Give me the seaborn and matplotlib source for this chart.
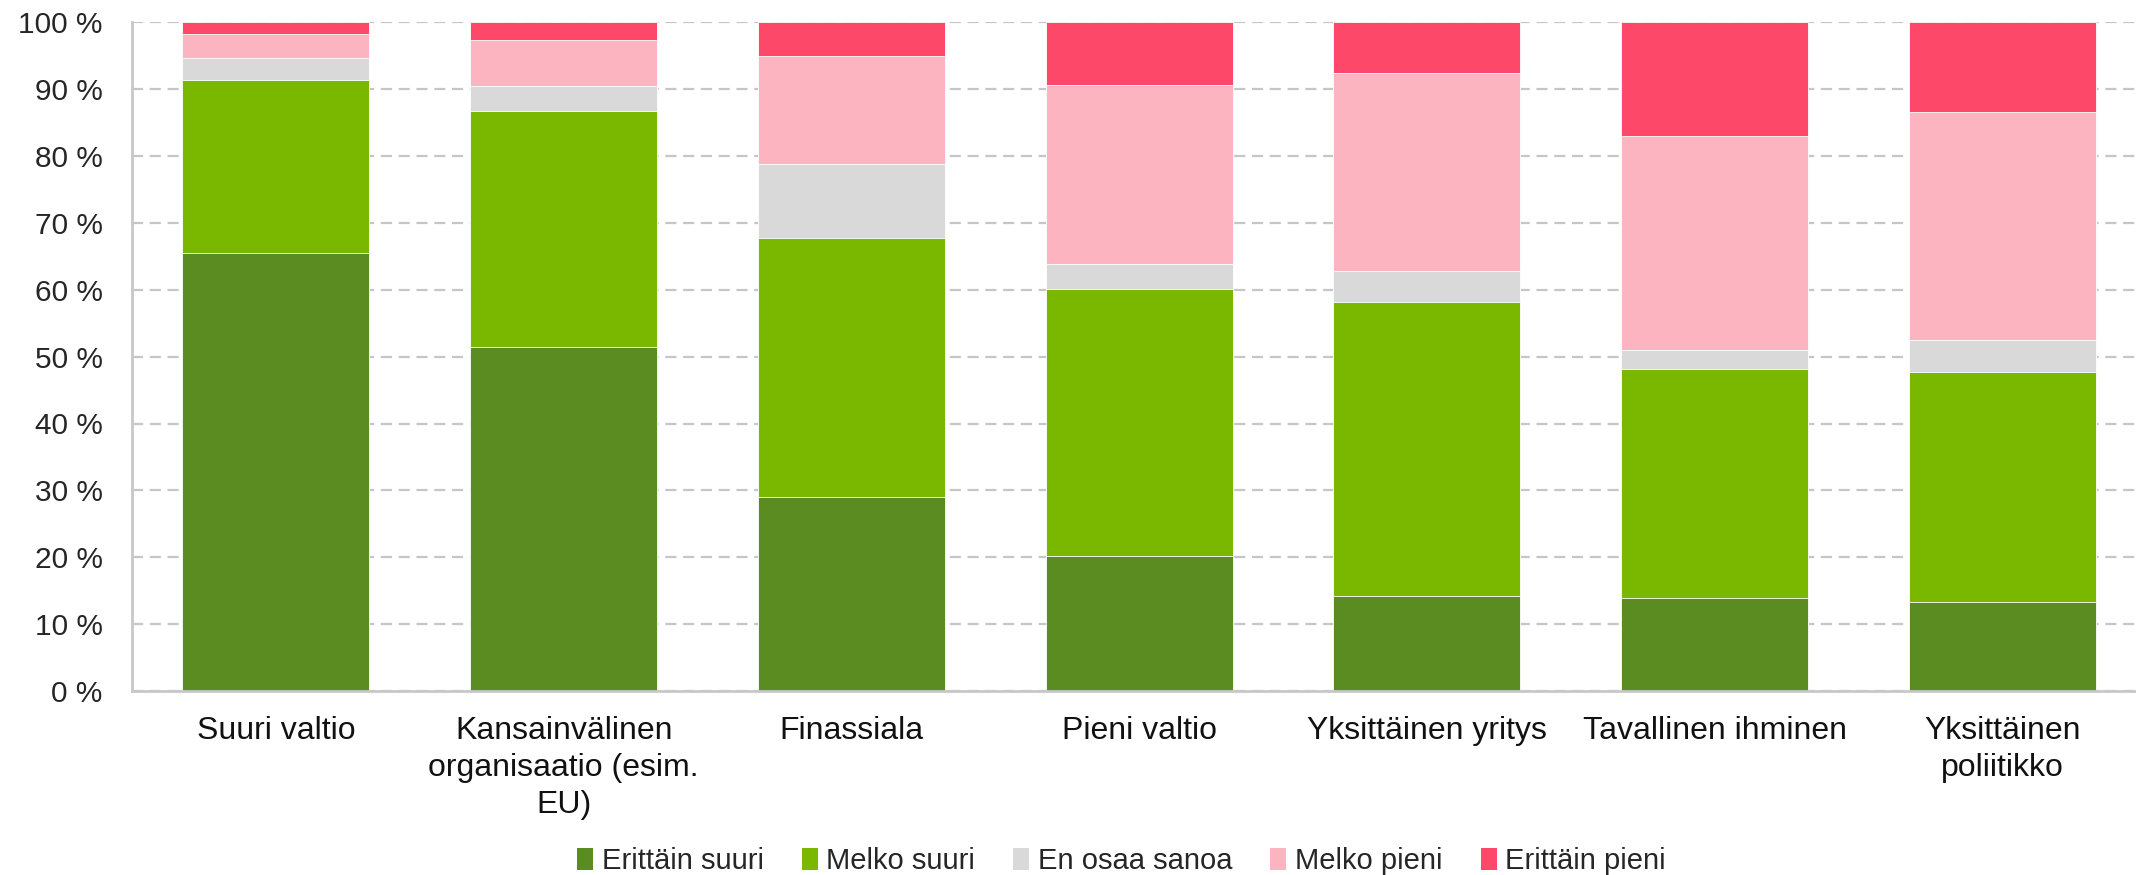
import matplotlib
matplotlib.use("Agg")
import matplotlib.pyplot as plt
from matplotlib.patches import Patch
from matplotlib.ticker import FuncFormatter
import seaborn as sns
import pandas as pd
import numpy as np

# categories and shares (%)
categories = ["Suuri valtio", "Kansainvälinen\norganisaatio (esim.\nEU)", "Finassiala",
              "Pieni valtio", "Yksittäinen yritys", "Tavallinen ihminen", "Yksittäinen\npoliitikko"]
erittain_suuri = [65.5, 51.4, 29.0, 20.2, 14.2, 14.0, 13.4]
melko_suuri = [25.8, 35.3, 38.7, 39.9, 44.0, 34.2, 34.3]
en_osaa = [3.3, 3.7, 11.0, 3.7, 4.6, 2.8, 4.8]
melko_pieni = [3.6, 6.9, 16.2, 26.8, 29.5, 31.9, 34.1]
erittain_pieni = [1.8, 2.7, 5.1, 9.4, 7.7, 17.1, 13.4]

series_names = ["Erittäin suuri", "Melko suuri", "En osaa sanoa", "Melko pieni", "Erittäin pieni"]
colors = ["#5B8C22", "#7AB800", "#D9D9D9", "#FCB4C0", "#FD4869"]

sns.set_style("white")
plt.rcParams["font.family"] = ["Liberation Sans", "DejaVu Sans"]

df = pd.DataFrame({"cat": categories})
layers = np.array([erittain_suuri, melko_suuri, en_osaa, melko_pieni, erittain_pieni])
cum = layers.cumsum(axis=0)

fig = plt.figure(figsize=(21.36, 8.75), dpi=100)
ax = fig.add_axes([0.0618, 0.21, 0.943, 0.765])

# draw cumulative totals from the top down so each layer shows as a stacked segment
for i in range(len(series_names) - 1, -1, -1):
    df["val"] = cum[i]
    sns.barplot(data=df, x="cat", y="val", color=colors[i], width=0.65,
                saturation=1, edgecolor="white", linewidth=0.6, ax=ax, zorder=2)

ax.set_ylim(0, 100)
ax.set_xlim(-0.5, 6.5)
ax.set_yticks(range(0, 101, 10))
ax.yaxis.set_major_formatter(FuncFormatter(lambda v, p: f"{int(v)} %"))
ax.yaxis.grid(True, color="#C6C6C6", linestyle=(0, (5, 3)), linewidth=1.6, zorder=0)
ax.set_axisbelow(True)
ax.set_xlabel("")
ax.set_ylabel("")
ax.tick_params(axis="y", length=0, pad=21, labelsize=21.5, colors="#262626")
ax.tick_params(axis="x", length=0, pad=18, labelsize=23, colors="#111111")
for lbl in ax.get_xticklabels():
    lbl.set_linespacing(1.3)
    lbl.set_verticalalignment("top")

for s in ["top", "right"]:
    ax.spines[s].set_visible(False)
for s in ["left", "bottom"]:
    ax.spines[s].set_color("#C8C8C8")
    ax.spines[s].set_linewidth(2)

handles = [Patch(facecolor=c, edgecolor="none", label=n) for n, c in zip(series_names, colors)]
fig.legend(handles=handles, loc="lower center", bbox_to_anchor=(0.525, -0.03), ncol=5,
           frameon=False, fontsize=21, handlelength=0.55, handleheight=0.8,
           handletextpad=0.3, columnspacing=1.3)

fig.savefig("out.png", dpi=100)
